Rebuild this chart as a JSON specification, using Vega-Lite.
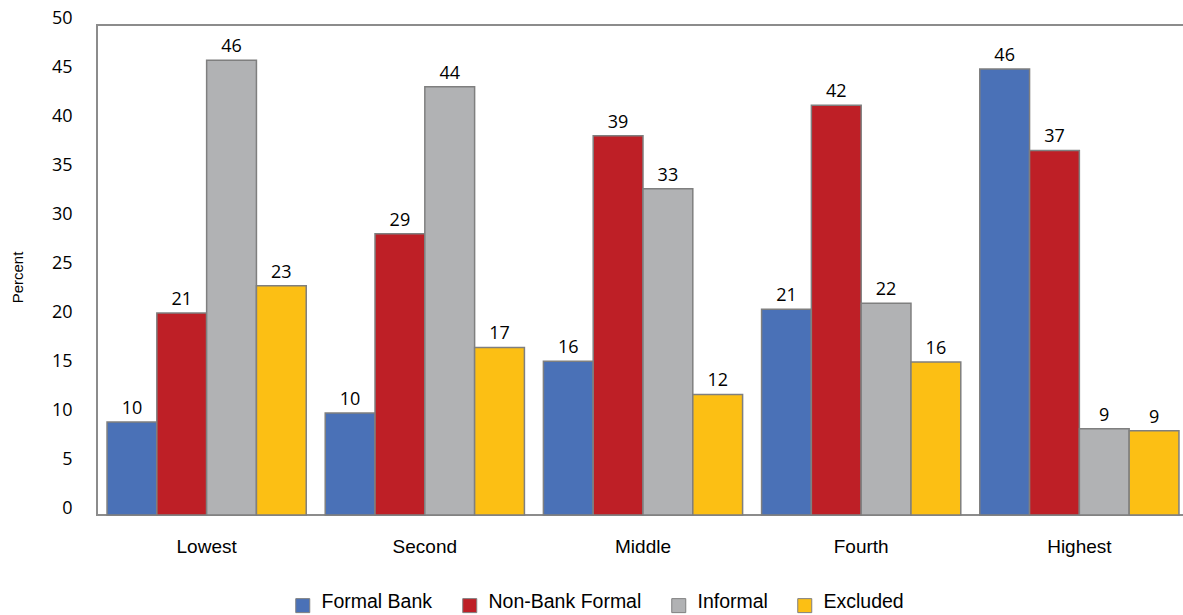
{
  "$schema": "https://vega.github.io/schema/vega-lite/v6.json",
  "autosize": {"type": "none"},
  "padding": {"left": 97, "top": 25, "right": 0, "bottom": 100},
  "width": 1092,
  "height": 490,
  "background": "white",
  "config": {
    "view": {"stroke": "#8c8c8c", "strokeWidth": 2},
    "axis": {"grid": false, "domain": false, "ticks": false}
  },
  "data": {
    "values": [
      {"quintile": "Lowest", "type": "Formal Bank", "value": 9.5, "label": "10"},
      {"quintile": "Lowest", "type": "Non-Bank Formal", "value": 20.6, "label": "21"},
      {"quintile": "Lowest", "type": "Informal", "value": 46.4, "label": "46"},
      {"quintile": "Lowest", "type": "Excluded", "value": 23.4, "label": "23"},
      {"quintile": "Second", "type": "Formal Bank", "value": 10.4, "label": "10"},
      {"quintile": "Second", "type": "Non-Bank Formal", "value": 28.7, "label": "29"},
      {"quintile": "Second", "type": "Informal", "value": 43.7, "label": "44"},
      {"quintile": "Second", "type": "Excluded", "value": 17.1, "label": "17"},
      {"quintile": "Middle", "type": "Formal Bank", "value": 15.7, "label": "16"},
      {"quintile": "Middle", "type": "Non-Bank Formal", "value": 38.7, "label": "39"},
      {"quintile": "Middle", "type": "Informal", "value": 33.3, "label": "33"},
      {"quintile": "Middle", "type": "Excluded", "value": 12.3, "label": "12"},
      {"quintile": "Fourth", "type": "Formal Bank", "value": 21.0, "label": "21"},
      {"quintile": "Fourth", "type": "Non-Bank Formal", "value": 41.8, "label": "42"},
      {"quintile": "Fourth", "type": "Informal", "value": 21.6, "label": "22"},
      {"quintile": "Fourth", "type": "Excluded", "value": 15.6, "label": "16"},
      {"quintile": "Highest", "type": "Formal Bank", "value": 45.5, "label": "46"},
      {"quintile": "Highest", "type": "Non-Bank Formal", "value": 37.2, "label": "37"},
      {"quintile": "Highest", "type": "Informal", "value": 8.8, "label": "9"},
      {"quintile": "Highest", "type": "Excluded", "value": 8.6, "label": "9"}
    ]
  },
  "encoding": {
    "x": {
      "field": "quintile", "type": "nominal",
      "sort": ["Lowest", "Second", "Middle", "Fourth", "Highest"],
      "scale": {"paddingInner": 0.087, "paddingOuter": 0.046},
      "axis": {"title": null, "labelAngle": 0, "labelFont": "Liberation Sans", "labelFontSize": 19, "labelColor": "#000000", "labelPadding": 22}
    },
    "xOffset": {
      "field": "type", "type": "nominal",
      "sort": ["Formal Bank", "Non-Bank Formal", "Informal", "Excluded"],
      "scale": {"paddingInner": 0, "paddingOuter": 0}
    },
    "y": {
      "field": "value", "type": "quantitative",
      "scale": {"domain": [0, 50], "nice": false},
      "axis": {
        "values": [0, 5, 10, 15, 20, 25, 30, 35, 40, 45, 50],
        "title": "Percent", "titleFont": "Liberation Sans", "titleFontSize": 15, "titleFontWeight": "normal", "titleColor": "#000000",
        "titleAngle": -90, "titleX": -80, "titleY": 252, "titleAlign": "center", "titleBaseline": "middle",
        "labelFont": "Open Sans", "labelFontSize": 18, "labelColor": "#000000", "labelPadding": 25, "labelOffset": -7
      }
    }
  },
  "layer": [
    {
      "mark": {"type": "bar", "stroke": "#7f7f7f", "strokeWidth": 1.5},
      "encoding": {
        "color": {
          "field": "type", "type": "nominal",
          "sort": ["Formal Bank", "Non-Bank Formal", "Informal", "Excluded"],
          "scale": {"domain": ["Formal Bank", "Non-Bank Formal", "Informal", "Excluded"], "range": ["#4a71b7", "#be1f26", "#b1b2b4", "#fcbf14"]},
          "legend": {
            "title": null, "orient": "none", "direction": "horizontal",
            "legendX": 196, "legendY": 567,
            "labelFont": "Liberation Sans", "labelFontSize": 19.5, "labelColor": "#000000",
            "symbolType": "M-1,-0.5H1V1.5H-1Z", "symbolSize": 196, "symbolStrokeColor": "#7f7f7f", "symbolStrokeWidth": 1,
            "labelOffset": 9, "columnPadding": 27
          }
        }
      }
    },
    {
      "mark": {"type": "text", "baseline": "bottom", "dy": -4, "font": "Open Sans", "fontSize": 18, "color": "#000000"},
      "encoding": {"text": {"field": "label"}}
    }
  ]
}
